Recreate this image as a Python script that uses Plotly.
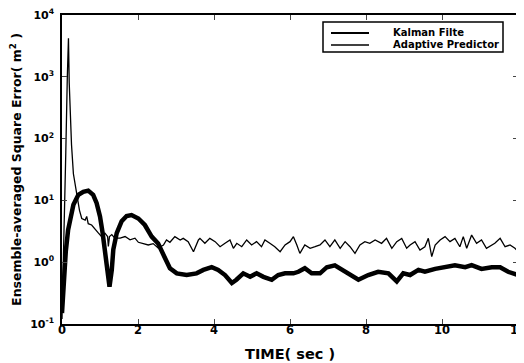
import plotly.graph_objects as go

# Kalman filter (thick) ensemble-averaged square error
kalman_t = [0.0, 0.05, 0.1, 0.16, 0.21, 0.30, 0.43, 0.56, 0.69, 0.82, 0.91, 1.0, 1.07, 1.13, 1.19, 1.25,
            1.31, 1.35, 1.44, 1.57, 1.70, 1.83, 2.01, 2.18, 2.36, 2.53, 2.71, 2.84, 3.02, 3.28, 3.54,
            3.72, 3.94, 4.11, 4.29, 4.47, 4.59, 4.77, 4.95, 5.12, 5.30, 5.52, 5.69, 5.87, 6.09, 6.22,
            6.39, 6.57, 6.79, 6.97, 7.18, 7.45, 7.80, 8.06, 8.32, 8.59, 8.81, 8.98, 9.16, 9.38, 9.55,
            9.82, 10.08, 10.34, 10.61, 10.78, 11.04, 11.31, 11.53, 11.74, 12.0]
kalman_v = [0.15, 0.6, 1.5, 3.3, 4.8, 8.5, 12.3, 13.8, 14.4, 12.3, 9.1, 5.5, 2.95, 1.4, 0.68, 0.40,
            0.75, 1.6, 2.95, 4.6, 5.6, 5.8, 5.1, 4.0, 2.6, 2.0, 1.17, 0.80, 0.66, 0.62, 0.66,
            0.75, 0.83, 0.75, 0.62, 0.46, 0.52, 0.66, 0.58, 0.66, 0.58, 0.52, 0.62, 0.66, 0.66, 0.70,
            0.80, 0.66, 0.66, 0.83, 0.89, 0.70, 0.52, 0.62, 0.70, 0.66, 0.49, 0.66, 0.62, 0.75, 0.70,
            0.78, 0.83, 0.89, 0.83, 0.90, 0.78, 0.83, 0.83, 0.70, 0.62]

# Adaptive predictor (thin) ensemble-averaged square error
adapt_t = [0.0, 0.05, 0.1, 0.14, 0.17, 0.19, 0.22, 0.25, 0.30, 0.34, 0.39, 0.46, 0.52, 0.61, 0.65,
           0.69, 0.78, 0.87, 0.96, 1.04, 1.13, 1.20, 1.22, 1.25, 1.31, 1.39, 1.53, 1.66, 1.79, 1.92,
           2.01, 2.14, 2.27, 2.40, 2.53, 2.67, 2.75, 2.84, 2.97, 3.11, 3.19, 3.32, 3.46, 3.59, 3.63,
           3.76, 3.89, 4.03, 4.16, 4.29, 4.42, 4.51, 4.60, 4.73, 4.86, 4.99, 5.12, 5.25, 5.34, 5.47,
           5.60, 5.74, 5.87, 6.00, 6.09, 6.18, 6.26, 6.39, 6.53, 6.66, 6.79, 6.92, 7.05, 7.18, 7.32,
           7.45, 7.58, 7.71, 7.84, 7.97, 8.10, 8.24, 8.41, 8.54, 8.68, 8.81, 8.94, 9.07, 9.16, 9.29,
           9.42, 9.55, 9.64, 9.73, 9.82, 9.95, 10.08, 10.21, 10.34, 10.47, 10.56, 10.65, 10.78, 10.91,
           11.04, 11.17, 11.31, 11.39, 11.53, 11.66, 11.79, 11.92, 12.0]
adapt_v = [0.12, 2.0, 60, 1000, 4200, 800, 200, 80, 27, 19, 11, 6.9, 5.1, 4.8, 5.5,
           4.2, 4.0, 3.5, 2.95, 2.6, 2.95, 2.6, 1.8, 2.6, 2.8, 2.45, 2.45, 2.6, 2.3, 2.45,
           2.1, 2.0, 1.9, 2.0, 1.7, 1.9, 2.29, 2.1, 2.59, 2.29, 2.43, 2.15, 1.48, 2.29, 2.43,
           2.02, 2.43, 2.15, 1.78, 2.02, 2.29, 1.68, 2.02, 1.78, 2.29, 1.90, 2.15, 1.78, 2.29, 2.02,
           1.78, 1.48, 1.90, 2.15, 2.59, 1.90, 1.39, 1.90, 1.68, 1.78, 1.90, 2.29, 1.78, 2.29, 1.68,
           2.15, 1.78, 1.39, 1.90, 2.15, 2.02, 2.29, 2.02, 2.43, 1.68, 2.15, 2.43, 1.68, 1.90, 2.15,
           1.57, 1.78, 2.43, 1.23, 1.90, 2.29, 2.59, 2.15, 2.43, 1.78, 2.59, 1.68, 2.75, 2.02,
           2.29, 1.68, 1.90, 2.02, 2.43, 1.78, 1.90, 1.68, 1.50]

series_names = ["Kalman Filte", "Adaptive Predictor"]
x_ticks = [0, 2, 4, 6, 8, 10, 12]
x_ticktext = ["0", "2", "4", "6", "8", "10", "12"]
y_tickvals = [0.1, 1, 10, 100, 1000, 10000]
y_ticktext = ["10<sup>-1</sup>", "10<sup>0</sup>", "10<sup>1</sup>", "10<sup>2</sup>",
              "10<sup>3</sup>", "10<sup>4</sup>"]
x_title = "TIME( sec )"
y_title = "Ensemble-averaged Square Error( m<sup>2</sup> )"

FONT = "DejaVu Sans, Liberation Sans, sans-serif"
OFF = 8  # page body margin in which the figure sits
PAGE_W, PAGE_H = 524, 363
W, H = PAGE_W - OFF, PAGE_H - OFF
# plot area in page pixels: x 62..518, y 15..324
L, R, T, B = 62 - OFF, PAGE_W - 518, 15 - OFF, PAGE_H - 324
PW, PH = W - L - R, H - T - B


def px(x):  # page pixel -> paper fraction
    return (x - OFF - L) / PW


def py(y):
    return (OFF + T + PH - y) / PH


fig = go.Figure()
fig.add_trace(go.Scatter(x=kalman_t, y=kalman_v, mode="lines", name=series_names[0],
                         line=dict(color="black", width=4.5), showlegend=False))
fig.add_trace(go.Scatter(x=adapt_t, y=adapt_v, mode="lines", name=series_names[1],
                         line=dict(color="black", width=1.3), showlegend=False))

# hand-built legend box (matches the compact original)
shapes = [
    dict(type="rect", xref="paper", yref="paper", x0=px(323), x1=px(503), y0=py(52), y1=py(22),
         line=dict(color="black", width=1.5), fillcolor="white", layer="above"),
    dict(type="line", xref="paper", yref="paper", x0=px(331), x1=px(369), y0=py(33), y1=py(33),
         line=dict(color="black", width=2.2), layer="above"),
    dict(type="line", xref="paper", yref="paper", x0=px(331), x1=px(369), y0=py(45), y1=py(45),
         line=dict(color="black", width=1.3), layer="above"),
]
annotations = [
    dict(xref="paper", yref="paper", x=px(391), y=py(33), text=series_names[0], showarrow=False,
         xanchor="left", yanchor="middle", font=dict(size=10, weight="bold")),
    dict(xref="paper", yref="paper", x=px(391), y=py(45), text=series_names[1], showarrow=False,
         xanchor="left", yanchor="middle", font=dict(size=10, weight="bold")),
    dict(xref="paper", yref="paper", x=px(290), y=py(353.5), text=x_title, showarrow=False,
         xanchor="center", yanchor="middle", font=dict(size=14.5, weight="bold")),
]
# x tick labels placed on the x scale, tight under the axis as in the original
for v, s in zip(x_ticks, x_ticktext):
    annotations.append(dict(xref="x", yref="paper", x=v, y=py(329.5), text=s, showarrow=False,
                            xanchor="center", yanchor="middle", font=dict(size=11.5, weight="bold")))

fig.update_layout(
    width=W, height=H,
    margin=dict(l=L, r=R, t=T, b=B),
    paper_bgcolor="white", plot_bgcolor="white",
    font=dict(family=FONT, color="black", size=12, weight="bold"),
    showlegend=False, shapes=shapes, annotations=annotations,
)
fig.update_xaxes(range=[0, 12], tickvals=x_ticks, ticks="inside", ticklen=5,
                 showline=True, linecolor="black", linewidth=1.5, mirror="ticks",
                 showgrid=False, zeroline=False, showticklabels=False, automargin=False)
fig.update_yaxes(type="log", range=[-1, 4], tickvals=y_tickvals, ticktext=y_ticktext,
                 ticks="inside", ticklen=5, automargin=False, ticklabelstandoff=4,
                 ticklabeloverflow="allow",
                 showline=True, linecolor="black", linewidth=1.5, mirror="ticks",
                 showgrid=False, zeroline=False, tickfont=dict(size=11, weight="bold"),
                 title=dict(text=y_title, font=dict(size=12.5, weight="bold"), standoff=9))

fig.write_html("out.html")
